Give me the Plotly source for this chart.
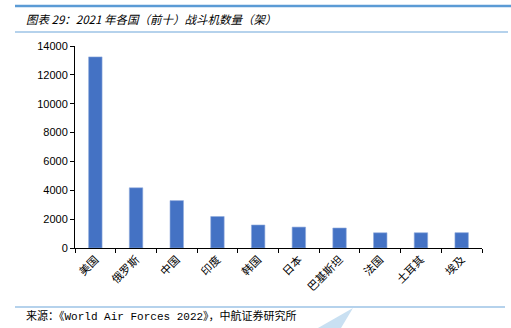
import plotly.graph_objects as go

categories = ["美国", "俄罗斯", "中国", "印度", "韩国", "日本", "巴基斯坦", "法国", "土耳其", "埃及"]
values = [13246, 4173, 3285, 2182, 1595, 1449, 1386, 1055, 1057, 1062]
y_ticks = [0, 2000, 4000, 6000, 8000, 10000, 12000, 14000]
y_tick_labels = ["0", "2000", "4000", "6000", "8000", "10000", "12000", "14000"]

title_text = "图表 29：2021 年各国（前十）战斗机数量（架）"
source_text = "来源：《World Air Forces 2022》，中航证券研究所"

L, R, T, B = 75, 29, 46, 80
W, H = 511, 328
PW, PH = W - L - R, H - T - B


def px(x):
    return (x - L) / PW


def py(y):
    return (H - B - y) / PH


fig = go.Figure()
fig.add_trace(go.Bar(
    x=categories, y=values,
    marker=dict(color="#4472C4", line=dict(color="#8FAADC", width=0.6)),
    width=0.33,
))

fig.update_layout(
    width=W, height=H,
    margin=dict(l=L, r=R, t=T, b=B),
    paper_bgcolor="white", plot_bgcolor="white",
    showlegend=False,
    font=dict(family="Liberation Sans, Arial, sans-serif", size=11, color="#000000"),
    xaxis=dict(
        showline=True, linecolor="#000000", linewidth=1,
        ticks="outside", ticklen=4, tickcolor="#000000", tickson="boundaries",
        tickangle=-45,
        tickfont=dict(family="Noto Sans CJK SC", size=11, color="#000000"),
        showgrid=False,
    ),
    yaxis=dict(
        range=[0, 14000], tickvals=y_ticks, ticktext=y_tick_labels,
        showline=True, linecolor="#000000", linewidth=1,
        ticks="outside", ticklen=4, tickcolor="#000000",
        showgrid=False, zeroline=False,
        tickfont=dict(size=11, color="#000000"),
    ),
)

# watermark wedge
fig.add_shape(type="path", xref="paper", yref="paper",
              path=f"M {px(318)},{py(328)} L {px(353)},{py(308)} L {px(341)},{py(328)} Z",
              fillcolor="#C9E0F2", line=dict(width=0), layer="below")

# decorative lines
fig.add_shape(type="line", xref="paper", yref="paper", x0=px(15), x1=px(511), y0=py(6), y1=py(6),
              line=dict(color="#5B9BD5", width=2.5))
fig.add_shape(type="line", xref="paper", yref="paper", x0=px(15), x1=px(508), y0=py(32), y1=py(32),
              line=dict(color="#9DC3E6", width=1.5))
fig.add_shape(type="line", xref="paper", yref="paper", x0=px(15), x1=px(505), y0=py(307), y1=py(307),
              line=dict(color="#9DC3E6", width=1.5))

fig.add_annotation(text=title_text, xref="paper", yref="paper", x=px(24), y=py(19),
                   xanchor="left", yanchor="middle", showarrow=False,
                   font=dict(family="Noto Sans CJK SC", size=11.5, color="#000000", style="italic"))
fig.add_annotation(text=source_text, xref="paper", yref="paper", x=px(24), y=py(316),
                   xanchor="left", yanchor="middle", showarrow=False,
                   font=dict(family="Liberation Mono, Noto Sans CJK SC", size=11, color="#000000"))

fig.write_html("out.html")
